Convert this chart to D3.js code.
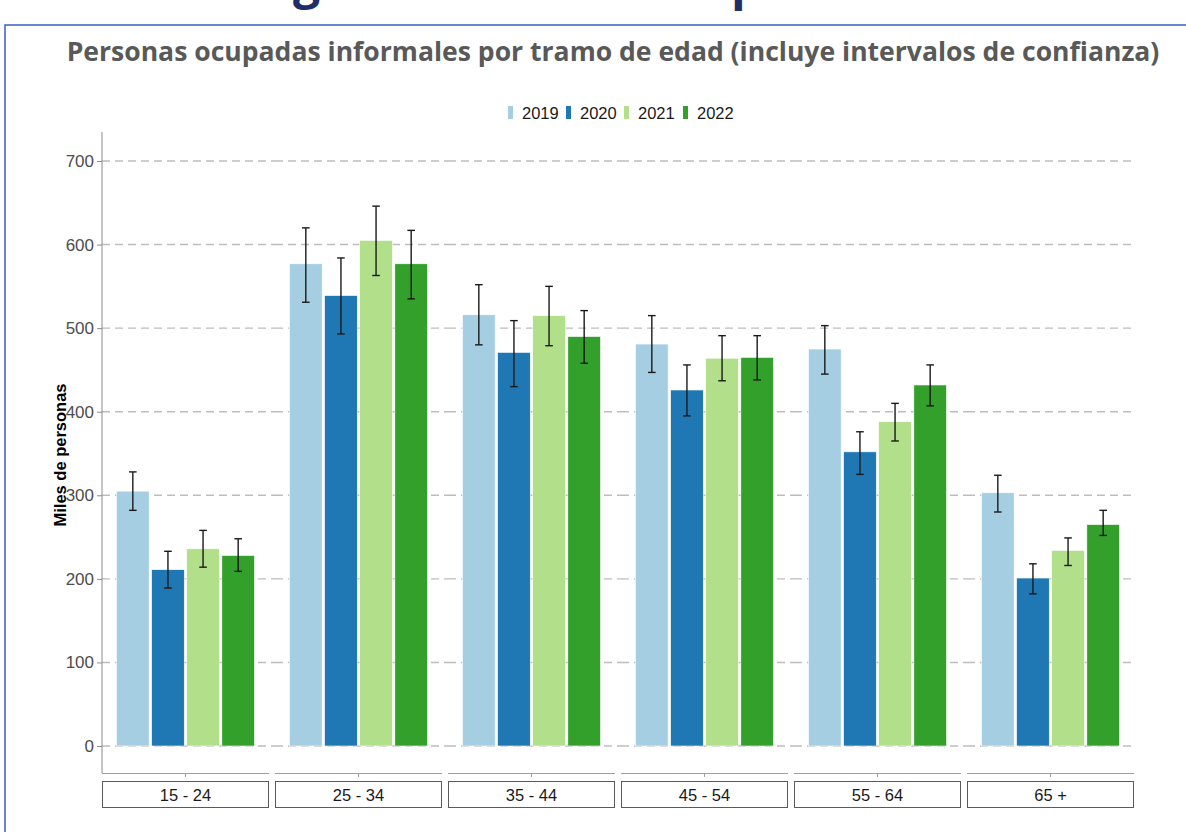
<!DOCTYPE html>
<html><head><meta charset="utf-8">
<script src="https://cdn.jsdelivr.net/npm/d3@7"></script>
<style>body{margin:0;background:#fff;}svg{display:block;}</style>
</head><body>
<svg id="c" width="1186" height="832"></svg>
<script>
const categories = ["15 - 24", "25 - 34", "35 - 44", "45 - 54", "55 - 64", "65 +"];
const years = ["2019", "2020", "2021", "2022"];
const val2019 = [305, 577, 516, 481, 475, 303];
const val2020 = [211, 539, 471, 426, 352, 201];
const val2021 = [236, 605, 515, 464, 388, 234];
const val2022 = [228, 577, 490, 465, 432, 265];
const lo2019 = [282, 531, 480, 447, 445, 280];
const hi2019 = [328, 620, 552, 515, 503, 324];
const lo2020 = [189, 493, 430, 395, 325, 182];
const hi2020 = [233, 584, 509, 456, 376, 218];
const lo2021 = [214, 563, 479, 437, 365, 216];
const hi2021 = [258, 646, 550, 491, 410, 249];
const lo2022 = [209, 535, 458, 438, 407, 252];
const hi2022 = [248, 617, 521, 491, 456, 282];
const yTicks = [0, 100, 200, 300, 400, 500, 600, 700];
const colors = ["#a6cee3", "#1f78b4", "#b2df8a", "#33a02c"];
const title = "Personas ocupadas informales por tramo de edad (incluye intervalos de confianza)";
const yTitle = "Miles de personas";

const vals = [val2019, val2020, val2021, val2022];
const los = [lo2019, lo2020, lo2021, lo2022];
const his = [hi2019, hi2020, hi2021, hi2022];
const data = [];
categories.forEach((c, i) => years.forEach((y, j) => data.push({cat: c, year: y, v: vals[j][i], lo: los[j][i], hi: his[j][i]})));

const svg = d3.select("#c");
const font = "'Liberation Sans', Arial, sans-serif";

// frame + cut-off heading fragments (only descenders visible, as in the reference)
svg.append("text").attr("x", 293).attr("y", -2).attr("font-family", "'Open Sans', sans-serif").attr("font-weight", "bold")
  .attr("font-size", 48).attr("fill", "#1f2d6b").text("g");
svg.append("text").attr("x", 731).attr("y", -1).attr("font-family", "'Open Sans', sans-serif").attr("font-weight", "bold")
  .attr("font-size", 48).attr("fill", "#1f2d6b").text("p");
svg.append("path").attr("d", "M5,840 V25 H1195").attr("fill", "none").attr("stroke", "#3a5fc0").attr("stroke-width", 1.5);

// title
const t = svg.append("text").attr("x", 613).attr("y", 61).attr("text-anchor", "middle")
  .attr("font-family", "'Open Sans', sans-serif").attr("font-weight", "bold").attr("font-size", 22)
  .attr("fill", "#595959").text(title);
const tw = t.node().getComputedTextLength();
t.attr("font-size", 22 * 1093 / tw);

const y = d3.scaleLinear().domain([-32.3, 734.7]).range([773, 132]);
const fx = d3.scaleBand().domain(categories).range([102, 1134]).paddingInner(6 / 173).paddingOuter(0);
const xi = d3.scaleBand().domain(years).range([14.5, 152.5]).paddingInner(0.07);

// gridlines
const g = svg.append("g");
categories.forEach(c => {
  g.selectAll(null).data(yTicks).enter().append("line")
    .attr("x1", fx(c)).attr("x2", fx(c) + fx.bandwidth() + (c === categories[categories.length - 1] ? 1 : 6))
    .attr("y1", d => y(d)).attr("y2", d => y(d))
    .attr("stroke", "#bdbdbd").attr("stroke-width", 1.4).attr("stroke-dasharray", "8,5");
});

// y axis
const ya = svg.append("g").attr("transform", "translate(102,0)")
  .call(d3.axisLeft(y).tickValues(yTicks).tickSize(5).tickPadding(3));
ya.select(".domain").attr("stroke", "#8c8c8c").attr("d", "M0,132V773");
ya.selectAll(".tick line").attr("stroke", "#8c8c8c");
ya.selectAll(".tick text").attr("font-family", font).attr("font-size", 17).attr("fill", "#4d4d4d");

svg.append("text").attr("transform", "translate(66,455) rotate(-90)").attr("text-anchor", "middle")
  .attr("font-family", font).attr("font-weight", "bold").attr("font-size", 16.5).attr("fill", "#000").text(yTitle);

// bars
const bars = svg.append("g");
bars.selectAll("rect").data(data).enter().append("rect")
  .attr("x", d => fx(d.cat) + xi(d.year)).attr("width", xi.bandwidth())
  .attr("y", d => y(d.v)).attr("height", d => y(0) - y(d.v))
  .attr("fill", d => colors[years.indexOf(d.year)]).attr("stroke", "#fff").attr("stroke-width", 0.6);

// error bars
const eb = svg.append("g").attr("stroke", "#1a1a1a").attr("stroke-width", 1.4);
data.forEach(d => {
  const cx = fx(d.cat) + xi(d.year) + xi.bandwidth() / 2;
  eb.append("line").attr("x1", cx).attr("x2", cx).attr("y1", y(d.hi)).attr("y2", y(d.lo));
  eb.append("line").attr("x1", cx - 3.8).attr("x2", cx + 3.8).attr("y1", y(d.hi)).attr("y2", y(d.hi));
  eb.append("line").attr("x1", cx - 3.8).attr("x2", cx + 3.8).attr("y1", y(d.lo)).attr("y2", y(d.lo));
});

// facet x axes and strips
categories.forEach(c => {
  const x0 = fx(c), w = fx.bandwidth();
  svg.append("line").attr("x1", x0).attr("x2", x0 + w).attr("y1", 773.5).attr("y2", 773.5).attr("stroke", "#a0a0a0").attr("stroke-width", 1);
  svg.append("line").attr("x1", x0 + w / 2).attr("x2", x0 + w / 2).attr("y1", 773.5).attr("y2", 777).attr("stroke", "#a0a0a0");
  svg.append("rect").attr("x", x0 + 0.5).attr("y", 781.5).attr("width", w - 1).attr("height", 26)
    .attr("fill", "#fff").attr("stroke", "#5a5a5a").attr("stroke-width", 1);
  svg.append("text").attr("x", x0 + w / 2).attr("y", 801).attr("text-anchor", "middle")
    .attr("font-family", font).attr("font-size", 16.5).attr("fill", "#1a1a1a").text(c);
});

// legend
const legX = [508, 566, 624, 683];
const leg = svg.append("g");
years.forEach((yr, j) => {
  leg.append("rect").attr("x", legX[j]).attr("y", 106).attr("width", 5).attr("height", 13).attr("fill", colors[j]);
  leg.append("text").attr("x", legX[j] + 14).attr("y", 119).attr("font-family", font).attr("font-size", 16.5)
    .attr("fill", "#1a1a1a").text(yr);
});
</script>
</body></html>
